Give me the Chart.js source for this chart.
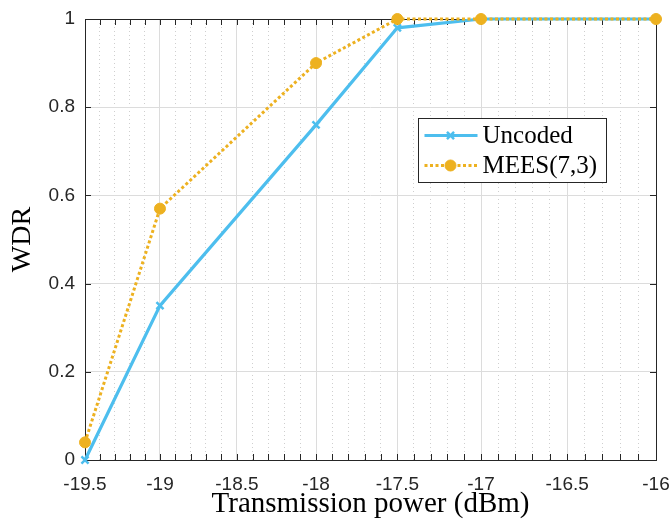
<!DOCTYPE html>
<html><head><meta charset="utf-8">
<script src="https://cdn.jsdelivr.net/npm/chart.js@4"></script>
<style>html,body{margin:0;padding:0;background:#fff}#wrap{width:671px;height:527px}</style>
</head><body><div id="wrap"><canvas id="c" width="671" height="527"></canvas></div>
<script>
// ---- data ----
const powerDbm   = [-19.5, -19, -18, -17.5, -17, -16];
const uncodedWDR = [0, 0.35, 0.76, 0.98, 1.0, 1.0];
const meesWDR    = [0.04, 0.57, 0.90, 1.0, 1.0, 1.0];
const seriesNames = ['Uncoded', 'MEES(7,3)'];
const xMajorTicks = [-19.5, -19, -18.5, -18, -17.5, -17, -16.5, -16];
const yTicks = [0, 0.2, 0.4, 0.6, 0.8, 1];
const xTitle = 'Transmission power (dBm)';
const yTitle = 'WDR';

const BLUE = '#4DBEEE', ORANGE = '#EDB120', AX = '#262626';
const SANS = "'Liberation Sans', Arial, sans-serif";
const SERIF = "'Liberation Serif', 'Times New Roman', serif";

// x-axis is logarithmic in |dBm| (reversed), as in the reference
const xMin = -19.5, xMax = -16;
const minorStep = 0.1;
const isMajor = v => xMajorTicks.some(m => Math.abs(m + v) < 1e-6);

function pts(ys){ return powerDbm.map((x,i)=>({x:-x, y:ys[i]})); }

const framePlugin = {
  id:'frame',
  beforeDatasetsDraw(chart){
    const {ctx, chartArea:a, scales:{x, y}} = chart;
    ctx.save();
    ctx.strokeStyle = AX; ctx.lineWidth = 1;
    ctx.strokeRect(Math.round(a.left)+0.5, Math.round(a.top)+0.5, Math.round(a.right-a.left), Math.round(a.bottom-a.top));
    const L = 6;
    ctx.beginPath();
    x.ticks.forEach(t=>{
      const px = Math.round(x.getPixelForValue(t.value))+0.5;
      ctx.moveTo(px, a.bottom); ctx.lineTo(px, a.bottom-L);
      ctx.moveTo(px, a.top); ctx.lineTo(px, a.top+L);
    });
    y.ticks.forEach(t=>{
      const py = Math.round(y.getPixelForValue(t.value))+0.5;
      ctx.moveTo(a.left, py); ctx.lineTo(a.left+L, py);
      ctx.moveTo(a.right, py); ctx.lineTo(a.right-L, py);
    });
    ctx.stroke();
    ctx.restore();
  }
};

const legendPlugin = {
  id:'customLegend',
  afterDraw(chart){
    const {ctx, chartArea:a} = chart;
    const bx = Math.round(a.left + 333)+0.5, by = Math.round(a.top + 99)+0.5, bw = 188, bh = 64;
    ctx.save();
    ctx.fillStyle = '#fff'; ctx.fillRect(bx, by, bw, bh);
    ctx.strokeStyle = AX; ctx.lineWidth = 1; ctx.strokeRect(bx, by, bw, bh);
    chart.data.datasets.forEach((ds, i)=>{
      const cy = by + 17 + i*30;
      ctx.save();
      ctx.strokeStyle = ds.borderColor; ctx.lineWidth = ds.borderWidth;
      ctx.setLineDash(ds.borderDash || []);
      ctx.beginPath(); ctx.moveTo(bx+6, cy); ctx.lineTo(bx+59, cy); ctx.stroke();
      ctx.restore();
      ctx.save();
      ctx.fillStyle = ds.pointBackgroundColor; ctx.strokeStyle = ds.pointBorderColor; ctx.lineWidth = ds.pointBorderWidth;
      Chart.helpers.drawPoint(ctx, {pointStyle: ds.pointStyle, radius: ds.pointRadius, rotation:0, borderWidth: ds.pointBorderWidth}, bx+32, cy);
      ctx.restore();
      ctx.fillStyle = '#000'; ctx.font = '25px ' + SERIF;
      ctx.textBaseline = 'middle'; ctx.textAlign = 'left';
      ctx.fillText(ds.label, bx+64, cy+1);
    });
    ctx.restore();
  }
};

new Chart(document.getElementById('c'), {
  type:'line',
  data:{
    datasets:[
      { label: seriesNames[0], data: pts(uncodedWDR), borderColor: BLUE, borderWidth: 3.2,
        pointStyle:'crossRot', pointRadius:5, pointBorderWidth:2.5,
        pointBorderColor: BLUE, pointBackgroundColor: BLUE, tension:0, clip:false, order:1 },
      { label: seriesNames[1], data: pts(meesWDR), borderColor: ORANGE, borderWidth: 3, borderDash:[3,2.5],
        pointStyle:'circle', pointRadius:5.5, pointBorderWidth:1,
        pointBorderColor: ORANGE, pointBackgroundColor: ORANGE, tension:0, clip:false, order:0 }
    ]
  },
  options:{
    responsive:false, animation:false, devicePixelRatio:1,
    layout:{ padding:{ left:0, top:19, right:15, bottom:0 } },
    plugins:{ legend:{display:false}, tooltip:{enabled:false} },
    scales:{
      x:{
        type:'logarithmic', reverse:true, min:-xMax, max:-xMin,
        afterBuildTicks(scale){
          const n = Math.round((xMax - xMin)/minorStep);
          const t = [];
          for(let i=0;i<=n;i++){ const v = +(-(xMin + i*minorStep)).toFixed(1); t.push({value:v, major:isMajor(v)}); }
          scale.ticks = t;
        },
        afterFit(scale){ scale.height = 67; scale.paddingLeft = 0; scale.paddingRight = 0; },
        ticks:{ autoSkip:false, maxRotation:0, minRotation:0, padding:13, color:AX,
          font:{family:SANS, size:19},
          callback(v){ return isMajor(v) ? String(-v) : ''; } },
        grid:{ drawTicks:false,
          color: c => (c.tick && c.tick.major) ? '#dcdcdc' : '#cfcfcf',
          lineWidth:1 },
        border:{ display:false,
          dash: c => (c.tick && c.tick.major) ? [] : [1,3] },
        title:{ display:true, text:xTitle, color:'#000', font:{family:SERIF, size:29}, padding:{top:0,bottom:5} }
      },
      y:{
        type:'linear', min:0, max:1,
        afterBuildTicks(scale){ scale.ticks = yTicks.map(v=>({value:v})); },
        afterFit(scale){ scale.width = 85; scale.paddingTop = 0; scale.paddingBottom = 0; },
        ticks:{ padding:10, color:AX, font:{family:SANS, size:19},
          callback(v){ return String(+v.toFixed(1)); } },
        grid:{ drawTicks:false, color:'#dcdcdc', lineWidth:1 },
        border:{ display:false },
        title:{ display:true, text:yTitle, color:'#000', font:{family:SERIF, size:28}, padding:{top:6,bottom:0} }
      }
    }
  },
  plugins:[framePlugin, legendPlugin]
});
</script>
</body></html>
